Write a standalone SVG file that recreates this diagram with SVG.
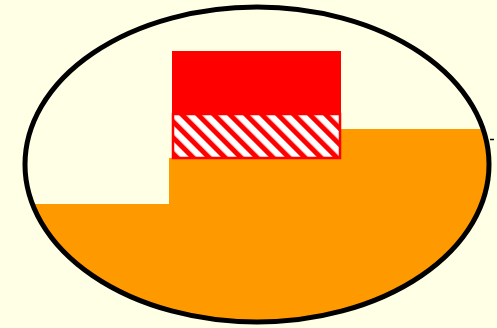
<svg xmlns="http://www.w3.org/2000/svg" width="497" height="328" viewBox="0 0 497 328">
<defs>
<clipPath id="ell"><ellipse cx="257" cy="164.5" rx="232" ry="157.5"/></clipPath>
<pattern id="hatch" patternUnits="userSpaceOnUse" width="11.3" height="11.3" patternTransform="rotate(-45)">
<rect width="11.3" height="11.3" fill="#fff"/>
<rect x="0" y="0" width="5" height="11.3" fill="#f00"/>
</pattern>
</defs>
<rect width="497" height="328" fill="#ffffe6"/>
<g id="fill">
<path d="M0,204 L169,204 L169,158 L340,158 L340,129 L497,129 L497,328 L0,328 Z" fill="#ff9900" clip-path="url(#ell)"/>
</g>
<g id="outline">
<ellipse cx="257" cy="164.5" rx="232" ry="157.5" fill="none" stroke="#000" stroke-width="5"/>
<line x1="490" y1="139.5" x2="494" y2="139.5" stroke="#000" stroke-width="1.5"/>
</g>
<g id="block">
<rect x="172" y="51" width="169" height="63" fill="#f00"/>
<rect x="173" y="114" width="167" height="44" fill="url(#hatch)" stroke="#f00" stroke-width="2.5"/>
</g>
</svg>
